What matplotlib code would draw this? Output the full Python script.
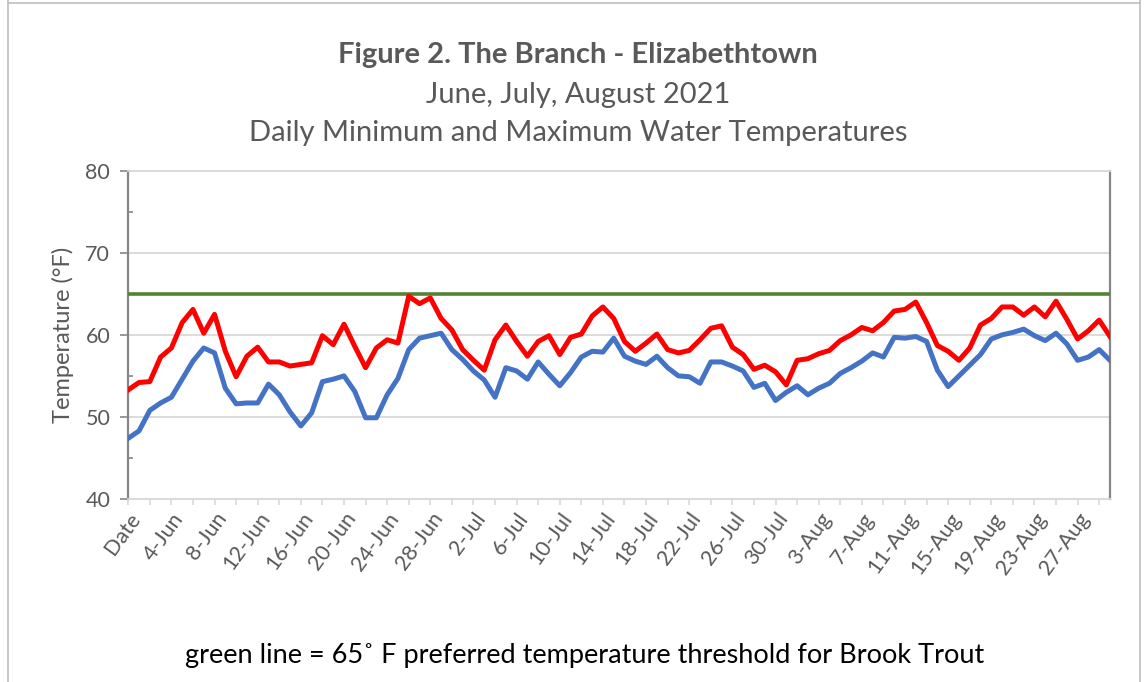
import matplotlib
matplotlib.use("Agg")
import matplotlib.pyplot as plt
from matplotlib.lines import Line2D
from matplotlib.ticker import MultipleLocator, FixedLocator

plt.rcParams['font.family'] = ['Lato', 'DejaVu Sans']

# -----------------------------------------------------------------------------
# Data
# -----------------------------------------------------------------------------
dates = ["Date"] + [f"{d}-Jun" for d in range(1, 31)] \
        + [f"{d}-Jul" for d in range(1, 32)] \
        + [f"{d}-Aug" for d in range(1, 31)]

daily_max = [
    53.3, 54.2, 54.3, 57.3, 58.4, 61.5, 63.1, 60.2, 62.5, 58.0,
    54.9, 57.4, 58.5, 56.7, 56.7, 56.2, 56.4, 56.6, 59.9, 58.8,
    61.3, 58.6, 56.0, 58.4, 59.4, 59.0, 64.7, 63.8, 64.5, 62.0,
    60.6, 58.2, 56.9, 55.7, 59.4, 61.2, 59.2, 57.4, 59.2, 59.9,
    57.6, 59.7, 60.1, 62.3, 63.4, 62.0, 59.2, 58.0, 59.0, 60.1,
    58.2, 57.8, 58.1, 59.4, 60.8, 61.1, 58.5, 57.6, 55.8, 56.3,
    55.5, 53.9, 56.9, 57.1, 57.7, 58.1, 59.3, 60.0, 60.9, 60.5,
    61.5, 62.9, 63.1, 64.0, 61.5, 58.7, 58.0, 56.9, 58.4, 61.2,
    62.0, 63.4, 63.4, 62.4, 63.4, 62.2, 64.1, 61.9, 59.5, 60.5,
    61.8, 59.8,
]

daily_min = [
    47.4, 48.3, 50.8, 51.7, 52.4, 54.6, 56.8, 58.4, 57.8, 53.5,
    51.6, 51.7, 51.7, 54.0, 52.7, 50.6, 48.9, 50.5, 54.3, 54.6,
    55.0, 53.1, 49.9, 49.9, 52.7, 54.7, 58.2, 59.6, 59.9, 60.2,
    58.2, 57.0, 55.6, 54.5, 52.4, 56.0, 55.6, 54.6, 56.7, 55.2,
    53.8, 55.4, 57.3, 58.0, 57.9, 59.6, 57.4, 56.8, 56.4, 57.4,
    56.0, 55.0, 54.9, 54.1, 56.7, 56.7, 56.2, 55.6, 53.6, 54.1,
    52.0, 53.0, 53.8, 52.7, 53.5, 54.1, 55.3, 56.0, 56.8, 57.8,
    57.3, 59.7, 59.6, 59.8, 59.2, 55.7, 53.7, 55.0, 56.3, 57.6,
    59.5, 60.0, 60.3, 60.7, 59.9, 59.3, 60.2, 58.9, 56.9, 57.3,
    58.2, 56.9,
]

threshold = [65.0] * len(dates)

title = "Figure 2. The Branch - Elizabethtown"
subtitle_1 = "June, July, August 2021"
subtitle_2 = "Daily Minimum and Maximum Water Temperatures"
y_label = "Temperature (\u00b0F)"
footnote = "green line = 65\u02da F preferred temperature threshold for Brook Trout"

# -----------------------------------------------------------------------------
# Figure
# -----------------------------------------------------------------------------
fig = plt.figure(figsize=(11.45, 6.82), dpi=100)
ax = fig.add_axes([0.112, 0.2683, 0.9694 - 0.112, 0.7497 - 0.2683])

x = list(range(len(dates)))
text_gray = '#595959'
grid_gray = '#d9d9d9'

ax.plot(x, threshold, color='#548235', lw=2.6, solid_capstyle='butt', zorder=3)
ax.plot(x, daily_min, color='#4472C4', lw=3.6, solid_joinstyle='round', zorder=4)
ax.plot(x, daily_max, color='#FF0000', lw=3.6, solid_joinstyle='round', zorder=5)

ax.set_xlim(0, len(dates) - 1)
ax.set_ylim(40, 80)

# y axis
ax.yaxis.set_major_locator(MultipleLocator(10))
ax.yaxis.set_minor_locator(MultipleLocator(5))
ax.tick_params(axis='y', which='major', direction='out', length=6, width=1.2,
               color='#868686', labelsize=15.5, labelcolor=text_gray, pad=7)
ax.tick_params(axis='y', which='minor', direction='in', length=3.5, width=1.2,
               color='#868686')
ax.grid(axis='y', which='major', color=grid_gray, lw=1.3, zorder=0)
ax.set_axisbelow(True)

# x axis: ticks every 2 categories, labels every 4
ax.xaxis.set_major_locator(FixedLocator(x[::4]))
ax.xaxis.set_minor_locator(FixedLocator(x[2::4]))
ax.set_xticklabels(dates[::4], rotation=54, ha='right', rotation_mode='anchor')
ax.tick_params(axis='x', which='both', direction='out', length=4, width=1.2,
               color=grid_gray, labelsize=15.5, labelcolor=text_gray, pad=3)

for side in ['left', 'right']:
    ax.spines[side].set_color('#868686')
    ax.spines[side].set_linewidth(1.6)
for side in ['top', 'bottom']:
    ax.spines[side].set_color(grid_gray)
    ax.spines[side].set_linewidth(1.3)

ax.set_ylabel(y_label, fontsize=17, color=text_gray, labelpad=8)

# titles
fig.text(0.505, 1 - 55 / 682, title, ha='center', va='center',
         fontsize=21, fontweight='bold', color=text_gray)
fig.text(0.505, 1 - 95 / 682, subtitle_1, ha='center', va='center',
         fontsize=21, color=text_gray)
fig.text(0.505, 1 - 133 / 682, subtitle_2, ha='center', va='center',
         fontsize=21, color=text_gray)

fig.text(0.511, 1 - 655 / 682, footnote, ha='center', va='center',
         fontsize=19.5, color='black')

# chart-area border
for xs, ys in [([8 / 1145, 8 / 1145], [0, 1]),
               ([1140 / 1145, 1140 / 1145], [0, 1]),
               ([8 / 1145, 1140 / 1145], [1 - 3 / 682, 1 - 3 / 682])]:
    fig.add_artist(Line2D(xs, ys, transform=fig.transFigure,
                          color='#bfbfbf', lw=1.2))

fig.savefig("out.png", dpi=100)
